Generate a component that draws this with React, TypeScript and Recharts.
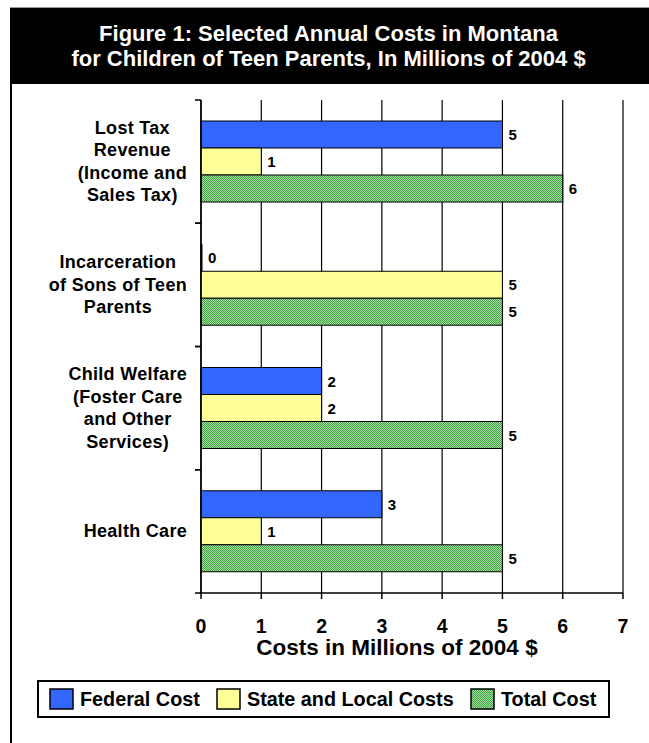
import React from "react";
import {
  BarChart,
  Bar,
  XAxis,
  YAxis,
  CartesianGrid,
  LabelList,
} from "recharts";

const categories = [
  "Lost Tax Revenue (Income and Sales Tax)",
  "Incarceration of Sons of Teen Parents",
  "Child Welfare (Foster Care and Other Services)",
  "Health Care",
];
const categoryLines = [
  ["Lost Tax", "Revenue", "(Income and", "Sales Tax)"],
  ["Incarceration", "of Sons of Teen", "Parents"],
  ["Child Welfare", "(Foster Care", "and Other", "Services)"],
  ["Health Care"],
];
const federalCost = [5, 0, 2, 3];
const stateLocalCosts = [1, 5, 2, 1];
const totalCost = [6, 5, 5, 5];
const xTicks = [0, 1, 2, 3, 4, 5, 6, 7];

const seriesNames = ["Federal Cost", "State and Local Costs", "Total Cost"];
const seriesKeys = ["federal", "state", "total"];
const seriesFills = ["#3366FF", "#FFFF99", "url(#greenCheck)"];
const legendItemLefts = [10, 177, 431];

const data = categories.map((c, i) => ({
  name: c,
  federal: federalCost[i],
  state: stateLocalCosts[i],
  total: totalCost[i],
}));

const FONT = "Arial, 'Liberation Sans', Helvetica, sans-serif";
const Y_FONT_SIZE = 18;
const Y_LETTER = 0.3;

let measureCtx: CanvasRenderingContext2D | null = null;
function measure(s: string): number {
  if (typeof document === "undefined") return s.length * 10;
  if (!measureCtx) {
    const c = document.createElement("canvas");
    measureCtx = c.getContext("2d");
  }
  if (!measureCtx) return s.length * 10;
  measureCtx.font = `bold ${Y_FONT_SIZE}px Arial, 'Liberation Sans', sans-serif`;
  return measureCtx.measureText(s).width + Y_LETTER * s.length;
}

const YTick = (props: any) => {
  const { x, y, payload } = props;
  const off = payload && payload.offset ? payload.offset : 0;
  const idx = categories.indexOf(payload.value);
  const lines = idx >= 0 ? categoryLines[idx] : [String(payload.value)];
  const lh = 22.5;
  const startY = y - ((lines.length - 1) * lh) / 2;
  const maxW = Math.max(...lines.map(measure));
  const rightEdge = x - 14;
  const cx = rightEdge - maxW / 2;
  return (
    <g>
      <line x1={x - 6} x2={x} y1={y - off} y2={y - off} stroke="#000" strokeWidth={1.5} />
      <line x1={x - 6} x2={x} y1={y + off} y2={y + off} stroke="#000" strokeWidth={1.5} />
      <text
        x={cx}
        y={startY}
        textAnchor="middle"
        dominantBaseline="central"
        fontFamily={FONT}
        fontWeight="bold"
        fontSize={Y_FONT_SIZE}
        letterSpacing={Y_LETTER}
        fill="#000"
      >
        {lines.map((l, i) => (
          <tspan key={i} x={cx} y={startY + i * lh}>
            {l}
          </tspan>
        ))}
      </text>
    </g>
  );
};

const ValueLabel = (props: any) => {
  const { x, y, width, height, value } = props;
  return (
    <text
      x={x + width + 6}
      y={y + height / 2}
      dominantBaseline="central"
      fill="#000"
      fontSize={15}
      fontWeight="bold"
      fontFamily={FONT}
    >
      {value}
    </text>
  );
};

export default function App() {
  return (
    <div
      style={{
        position: "absolute",
        left: 0,
        top: 0,
        width: 649,
        height: 743,
        background: "#fff",
        fontFamily: FONT,
        overflow: "hidden",
      }}
    >
      <div
        style={{
          position: "absolute",
          left: 10,
          top: 7,
          width: 639,
          height: 77,
          background: "#000",
          borderTop: "1px solid #999",
          color: "#fff",
          fontWeight: "bold",
          fontSize: 22,
          textAlign: "center",
          lineHeight: "25px",
          boxSizing: "border-box",
          paddingTop: 13,
          paddingRight: 2,
          whiteSpace: "nowrap",
        }}
      >
        <div>Figure 1: Selected Annual Costs in Montana</div>
        <div>for Children of Teen Parents, In Millions of 2004 $</div>
      </div>
      <div
        style={{
          position: "absolute",
          left: 10,
          top: 84,
          width: 2,
          height: 659,
          background: "#000",
        }}
      />
      <div style={{ position: "absolute", left: 0, top: 0 }}>
        <BarChart
          width={649}
          height={743}
          data={data}
          layout="vertical"
          margin={{ top: 100, right: 26, bottom: 90, left: 0 }}
          barCategoryGap={21}
          barGap={0}
        >
          <defs>
            <pattern id="greenCheck" width="2" height="2" patternUnits="userSpaceOnUse">
              <rect width="2" height="2" fill="#A6DCA6" />
              <rect width="1" height="1" fill="#3FA33F" />
              <rect x="1" y="1" width="1" height="1" fill="#3FA33F" />
            </pattern>
          </defs>
          <CartesianGrid horizontal={false} vertical stroke="#000" strokeWidth={1.2} />
          <XAxis
            xAxisId="top"
            orientation="top"
            type="number"
            domain={[0, 7]}
            ticks={xTicks}
            tick={false}
            tickLine={false}
            axisLine={{ stroke: "#000", strokeWidth: 1.5 }}
            height={0}
          />
          <XAxis
            type="number"
            domain={[0, 7]}
            ticks={xTicks}
            interval={0}
            tickSize={6}
            tickMargin={20}
            tickLine={{ stroke: "#000", strokeWidth: 1.5 }}
            axisLine={{ stroke: "#000", strokeWidth: 1.5 }}
            tick={{ fill: "#000", fontSize: 19.5, fontWeight: "bold", fontFamily: FONT }}
            height={60}
          />
          <YAxis
            type="category"
            dataKey="name"
            width={201}
            tickSize={0}
            tickMargin={0}
            tickLine={false}
            axisLine={{ stroke: "#000", strokeWidth: 1.5 }}
            tick={<YTick />}
            interval={0}
          />
          {seriesKeys.map((k, i) => (
            <Bar
              key={k}
              dataKey={k}
              name={seriesNames[i]}
              fill={seriesFills[i]}
              stroke="#000"
              strokeWidth={1}
              minPointSize={1}
              isAnimationActive={false}
            >
              <LabelList dataKey={k} content={<ValueLabel />} />
            </Bar>
          ))}
        </BarChart>
      </div>
      <div
        style={{
          position: "absolute",
          left: 201,
          width: 422,
          top: 635,
          textAlign: "center",
          fontWeight: "bold",
          fontSize: 22.5,
          lineHeight: "26px",
          paddingRight: 30,
          boxSizing: "border-box",
          whiteSpace: "nowrap",
        }}
      >
        Costs in Millions of 2004 $
      </div>
      <div
        style={{
          position: "absolute",
          left: 37,
          top: 680,
          width: 573,
          height: 38,
          border: "2px solid #000",
          boxSizing: "border-box",
          fontWeight: "bold",
          fontSize: 19.8,
          whiteSpace: "nowrap",
        }}
      >
        {seriesNames.map((n, i) => (
          <div
            key={n}
            style={{
              position: "absolute",
              left: legendItemLefts[i],
              top: 0,
              height: 34,
              display: "flex",
              alignItems: "center",
            }}
          >
            <svg width={25} height={22} style={{ marginRight: 6, flex: "none" }}>
              <defs>
                <pattern id={"lg" + i} width="2" height="2" patternUnits="userSpaceOnUse">
                  <rect width="2" height="2" fill="#A6DCA6" />
                  <rect width="1" height="1" fill="#3FA33F" />
                  <rect x="1" y="1" width="1" height="1" fill="#3FA33F" />
                </pattern>
              </defs>
              <rect
                x={1}
                y={1}
                width={23}
                height={20}
                fill={i === 2 ? "url(#lg2)" : seriesFills[i]}
                stroke="#000"
                strokeWidth={1.5}
              />
            </svg>
            <span>{n}</span>
          </div>
        ))}
      </div>
    </div>
  );
}
